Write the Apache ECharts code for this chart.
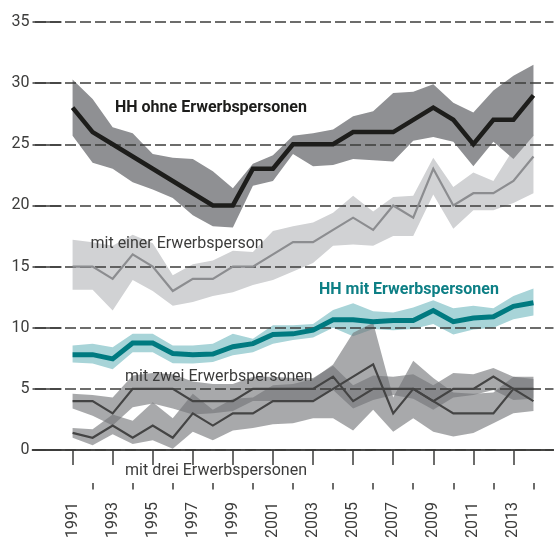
<!DOCTYPE html>
<html>
<head>
<meta charset="utf-8">
<script src="https://cdn.jsdelivr.net/npm/echarts@6/dist/echarts.min.js"></script>
<style>
  html, body { margin: 0; padding: 0; background: #fff; }
  #chart { width: 554px; height: 541px; }
</style>
</head>
<body>
<div id="chart"></div>
<script>
const years = [1991, 1992, 1993, 1994, 1995, 1996, 1997, 1998, 1999, 2000, 2001, 2002,
  2003, 2004, 2005, 2006, 2007, 2008, 2009, 2010, 2011, 2012, 2013, 2014]
const labelYears = [1991, 1993, 1995, 1997, 1999, 2001, 2003, 2005, 2007, 2009, 2011, 2013]
const minorYears = [1992, 1994, 1996, 1998, 2000, 2002, 2004, 2006, 2008, 2010, 2012, 2014]

// HH ohne Erwerbspersonen
const ohneMean = [28, 26, 25, 24, 23, 22, 21, 20, 20, 23, 23, 25, 25, 25, 26, 26, 26, 27, 28, 27, 25, 27, 27, 29]
const ohneHigh = [30.3, 28.7, 26.4, 25.9, 24.2, 23.9, 23.8, 22.8, 21.4, 23.4, 24.1, 25.7, 25.9, 26.2, 27.3, 27.7, 29.2, 29.3, 29.9, 28.4, 27.6, 29.4, 30.6, 31.5]
const ohneLow = [25.7, 23.5, 23.0, 21.9, 21.3, 20.6, 19.2, 18.3, 18.2, 21.6, 22.0, 24.2, 23.2, 23.3, 23.8, 23.7, 23.6, 25.3, 25.6, 25.2, 23.2, 25.2, 23.8, 25.7]

// mit einer Erwerbsperson
const einerMean = [15, 15, 14, 16, 15, 13, 14, 14, 15, 15, 16, 17, 17, 18, 19, 18, 20, 19, 23, 20, 21, 21, 22, 24]
const einerHigh = [17.2, 17.0, 16.7, 17.6, 16.9, 14.3, 15.2, 15.5, 16.3, 16.2, 17.9, 18.3, 18.6, 19.4, 20.8, 19.5, 20.7, 20.8, 23.9, 21.5, 22.7, 22.0, 24.6, 25.8]
const einerLow = [13.1, 13.1, 11.4, 13.9, 13.0, 11.8, 12.1, 12.6, 12.9, 13.5, 13.9, 14.6, 15.3, 16.7, 16.8, 16.7, 17.5, 17.5, 20.9, 18.1, 19.6, 19.6, 20.2, 21.0]

// HH mit Erwerbspersonen
const mitMean = [7.8, 7.8, 7.45, 8.75, 8.75, 7.9, 7.8, 7.85, 8.45, 8.7, 9.45, 9.5, 9.8, 10.65, 10.65, 10.5, 10.6, 10.6, 11.4, 10.5, 10.8, 10.9, 11.75, 12.05]
const mitHigh = [8.55, 8.7, 8.4, 9.5, 9.5, 8.55, 8.55, 8.7, 9.5, 9.1, 10.2, 10.2, 10.3, 11.45, 12.0, 11.35, 11.25, 11.65, 12.25, 11.6, 11.8, 11.6, 12.6, 13.2]
const mitLow = [7.15, 7.07, 6.6, 8.0, 8.0, 7.1, 7.07, 7.2, 7.75, 8.0, 8.7, 9.0, 9.2, 10.0, 9.3, 9.9, 9.8, 9.9, 10.3, 9.45, 9.85, 10.0, 10.7, 11.0]

// mit zwei Erwerbspersonen
const zweiMean = [4, 4, 3, 5, 5, 5, 4, 4, 4, 5, 5, 5, 5, 6, 4, 5, 5, 5, 4, 5, 5, 6, 5, 5]
const zweiHigh = [4.6, 4.5, 4.3, 6.1, 6.3, 6.2, 5.6, 5.4, 5.4, 6.0, 6.0, 5.9, 5.9, 6.9, 5.3, 6.1, 6.0, 6.2, 5.3, 6.3, 6.2, 6.7, 6.0, 6.0]
const zweiLow = [3.4, 2.8, 2.0, 3.5, 3.8, 3.4, 2.9, 3.0, 3.2, 4.0, 4.0, 4.1, 4.1, 4.9, 3.4, 4.1, 4.5, 4.2, 3.3, 4.3, 4.5, 4.9, 4.1, 4.2]

// mit drei Erwerbspersonen
const dreiMean = [1.4, 1, 2, 1, 2, 1, 3, 2, 3, 3, 4, 4, 4, 5, 6, 7, 3, 5, 4, 3, 3, 3, 5, 4]
const dreiHigh = [1.8, 1.7, 2.9, 2.4, 3.9, 2.6, 4.6, 3.3, 4.2, 4.3, 5.3, 5.4, 5.8, 7.0, 9.6, 10.4, 4.3, 7.3, 5.9, 4.7, 4.6, 4.7, 6.0, 5.8]
const dreiLow = [1.0, 0.4, 1.3, 0.5, 0.8, 0.1, 1.5, 0.8, 1.6, 1.8, 2.1, 2.2, 2.6, 2.6, 1.6, 3.3, 1.5, 2.6, 1.5, 1.1, 1.4, 2.2, 3.0, 3.2]

const FONT = 'Roboto, "Liberation Sans", sans-serif'
const AXIS_COLOR = '#3c3c3b'

function pairs (values) {
  return years.map((y, i) => [y, values[i]])
}

// confidence band as one polygon: upper edge forward, lower edge back
function band (low, high, color, opacity) {
  return {
    type: 'custom',
    silent: true,
    z: 1,
    data: years.map((y, i) => [y, low[i], high[i]]),
    encode: { x: 0, y: [1, 2] },
    renderItem: function (params, api) {
      if (params.dataIndex !== 0) return
      const pts = []
      for (let i = 0; i < years.length; i++) pts.push(api.coord([years[i], high[i]]))
      for (let i = years.length - 1; i >= 0; i--) pts.push(api.coord([years[i], low[i]]))
      return { type: 'polygon', shape: { points: pts }, style: { fill: color, opacity: opacity } }
    }
  }
}

function line (name, values, color, width) {
  return {
    name: name,
    type: 'line',
    data: pairs(values),
    symbol: 'none',
    lineStyle: { color: color, width: width, cap: 'butt', join: 'miter' },
    z: 4
  }
}

const xBase = { type: 'value', min: 1989, max: 2015, splitLine: { show: false } }

const myChart = echarts.init(document.getElementById('chart'))
myChart.setOption({
  animation: false,
  grid: { left: 32.5, right: 0.5, top: 22, bottom: 87 },
  xAxis: [
    Object.assign({}, xBase, {
      position: 'bottom',
      offset: 33,
      axisLine: { show: true, lineStyle: { color: AXIS_COLOR, width: 1.5 } },
      axisTick: { show: true, length: 15, customValues: labelYears, lineStyle: { color: AXIS_COLOR, width: 1.5 } },
      axisLabel: {
        customValues: labelYears,
        rotate: 90,
        margin: 19,
        color: AXIS_COLOR,
        fontFamily: FONT,
        fontSize: 16,
        formatter: v => String(v)
      }
    }),
    Object.assign({}, xBase, {
      position: 'bottom',
      offset: 33,
      axisLine: { show: false },
      axisTick: { show: true, length: 6.5, customValues: minorYears, lineStyle: { color: AXIS_COLOR, width: 1.5 } },
      axisLabel: { show: false }
    }),
    Object.assign({}, xBase, {
      position: 'bottom',
      offset: 0,
      z: 5,
      axisLine: { show: true, lineStyle: { color: AXIS_COLOR, width: 1.5 } },
      axisTick: { show: false },
      axisLabel: { show: false }
    })
  ],
  yAxis: {
    type: 'value',
    min: 0,
    max: 35,
    interval: 5,
    z: 2,
    axisLine: { show: false },
    axisTick: { show: true, inside: true, length: 29, lineStyle: { color: AXIS_COLOR, width: 1.5 } },
    axisLabel: { color: AXIS_COLOR, fontFamily: FONT, fontSize: 16, margin: 3 },
    splitLine: { lineStyle: { color: AXIS_COLOR, width: 1.5, type: [11, 4], dashOffset: 12.5 } }
  },
  series: [
    band(einerLow, einerHigh, '#d1d2d4', 1),
    band(ohneLow, ohneHigh, '#8f9093', 1),
    band(mitLow, mitHigh, '#a8d4d8', 1),
    band(zweiLow, zweiHigh, 'rgb(115,116,120)', 0.62),
    band(dreiLow, dreiHigh, 'rgb(115,116,120)', 0.62),
    line('mit einer Erwerbsperson', einerMean, '#8c8d90', 2.2),
    line('mit zwei Erwerbspersonen', zweiMean, '#444444', 2.2),
    line('mit drei Erwerbspersonen', dreiMean, '#444444', 2.2),
    line('HH mit Erwerbspersonen', mitMean, '#007a80', 5),
    line('HH ohne Erwerbspersonen', ohneMean, '#1d1d1b', 4.5)
  ],
  graphic: [
    { type: 'text', x: 115, y: 107.5, z: 10, style: { text: 'HH ohne Erwerbspersonen', font: 'bold 16px ' + FONT, fill: '#1d1d1b', textAlign: 'left', textVerticalAlign: 'middle' } },
    { type: 'text', x: 90.5, y: 243.5, z: 10, style: { text: 'mit einer Erwerbsperson', font: '16px ' + FONT, fill: AXIS_COLOR, textAlign: 'left', textVerticalAlign: 'middle' } },
    { type: 'text', x: 319, y: 289.5, z: 10, style: { text: 'HH mit Erwerbspersonen', font: 'bold 16px ' + FONT, fill: '#0d7f85', textAlign: 'left', textVerticalAlign: 'middle' } },
    { type: 'text', x: 125, y: 376.5, z: 10, style: { text: 'mit zwei Erwerbspersonen', font: '16px ' + FONT, fill: AXIS_COLOR, textAlign: 'left', textVerticalAlign: 'middle' } },
    { type: 'text', x: 125, y: 470.5, z: 10, style: { text: 'mit drei Erwerbspersonen', font: '16px ' + FONT, fill: AXIS_COLOR, textAlign: 'left', textVerticalAlign: 'middle' } }
  ]
})
</script>
</body>
</html>
